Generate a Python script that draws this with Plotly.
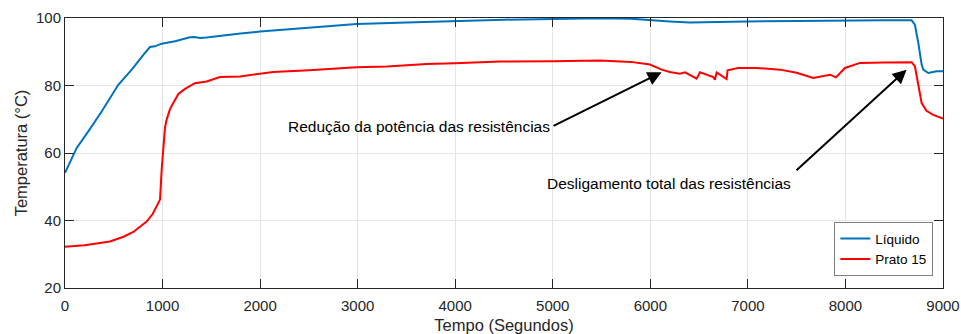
import plotly.graph_objects as go

# Time axis (seconds) and temperatures (°C)
t_liquido = [0, 120, 239, 376, 546, 684, 803, 871, 922, 991, 1128, 1230, 1281, 1330,
             1384, 1450, 1600, 1800, 2000, 2500, 2990, 3500, 4000, 4500, 5000, 5484,
             5800, 6000, 6200, 6406, 6700, 6987, 7500, 7995, 8400, 8679, 8712, 8747,
             8781, 8798, 8849, 8934, 9000]
temp_liquido = [54.1, 61.5, 66.4, 72.3, 80.2, 84.7, 89.1, 91.4, 91.6, 92.4, 93.1, 93.8,
                94.3, 94.4, 94.1, 94.2, 94.8, 95.4, 96.0, 97.2, 98.2, 98.7, 99.2, 99.5,
                99.7, 99.9, 99.8, 99.3, 99.0, 98.7, 98.9, 99.0, 99.1, 99.3, 99.3, 99.3,
                98.0, 92.6, 86.2, 84.7, 83.7, 84.2, 84.2]

t_prato = [0, 200, 461, 600, 700, 837, 900, 974, 991, 1008, 1025, 1042, 1076, 1110,
           1162, 1230, 1332, 1452, 1589, 1794, 1982, 2135, 2500, 2990, 3300, 3707,
           4000, 4459, 5000, 5484, 5800, 5996, 6116, 6200, 6304, 6355, 6475, 6509,
           6645, 6662, 6680, 6782, 6792, 6901, 7090, 7329, 7500, 7670, 7841, 7903,
           7995, 8149, 8400, 8679, 8712, 8750, 8781, 8830, 8900, 9000]
temp_prato = [32.2, 32.7, 33.8, 35.2, 36.6, 39.7, 42.0, 46.2, 55.1, 63.0, 67.5, 69.9,
              73.0, 74.8, 77.5, 79.0, 80.7, 81.2, 82.5, 82.7, 83.4, 84.0, 84.5, 85.4,
              85.6, 86.4, 86.6, 87.1, 87.2, 87.4, 87.0, 86.2, 84.7, 84.0, 83.5, 83.9,
              82.0, 83.9, 82.5, 81.7, 83.9, 81.9, 84.5, 85.2, 85.2, 84.7, 83.8, 82.2,
              83.2, 82.4, 85.2, 86.7, 86.8, 86.9, 85.7, 80.0, 74.8, 72.5, 71.3, 70.2]

x_ticks = [0, 1000, 2000, 3000, 4000, 5000, 6000, 7000, 8000, 9000]
y_ticks = [20, 40, 60, 80, 100]

# Arrow annotations: (text, tail_x, tail_y, tip_x, tip_y, text_x, text_y)
notas = [
    ("Redução da potência das resistências", 4992, 67.8, 6116, 83.9, 4992, 67.8),
    ("Desligamento total das resistências", 7483, 54.5, 8627, 84.7, 7465, 51.1),
]

FONT = "Liberation Sans, Arial, sans-serif"
INK = "#262626"

fig = go.Figure()
fig.add_trace(go.Scatter(x=t_liquido, y=temp_liquido, mode="lines", name="Líquido",
                         line=dict(color="#0072BD", width=2)))
fig.add_trace(go.Scatter(x=t_prato, y=temp_prato, mode="lines", name="Prato 15",
                         line=dict(color="#FF0000", width=2)))

for texto, ax_, ay_, x_, y_, tx, ty in notas:
    fig.add_annotation(x=x_, y=y_, ax=ax_, ay=ay_, xref="x", yref="y",
                       axref="x", ayref="y", text="", showarrow=True,
                       arrowhead=2, arrowsize=1.4, arrowwidth=2, arrowcolor="black",
                       standoff=0, startstandoff=0)
    fig.add_annotation(x=tx, y=ty, xref="x", yref="y", text=texto, showarrow=False,
                       xanchor="right", yanchor="middle",
                       font=dict(family=FONT, size=15.5, color="black"))

axis_common = dict(showline=True, linecolor=INK, linewidth=1, mirror="ticks",
                   ticks="inside", ticklen=9, tickcolor=INK, tickwidth=1,
                   showgrid=True, gridcolor="#e5e5e5", gridwidth=1, zeroline=False,
                   automargin=False,
                   tickfont=dict(family=FONT, size=15, color=INK))

fig.update_xaxes(range=[0, 9000], tickvals=x_ticks, ticklabelstandoff=4,
                 title=dict(text="Tempo (Segundos)", standoff=10,
                            font=dict(family=FONT, size=16.5, color=INK)),
                 **axis_common)
fig.update_yaxes(range=[20, 100], tickvals=y_ticks,
                 title=dict(text="Temperatura (°C)", standoff=4,
                            font=dict(family=FONT, size=16.5, color=INK)),
                 **axis_common)

fig.update_layout(
    width=961, height=334,
    margin=dict(l=65, r=18, t=18, b=46),
    paper_bgcolor="white", plot_bgcolor="white",
    showlegend=True,
    legend=dict(x=0.989, y=0.044, xanchor="right", yanchor="bottom",
                bgcolor="white", bordercolor="#7f7f7f", borderwidth=1,
                font=dict(family=FONT, size=13.5, color="black"),
                tracegroupgap=0, itemwidth=30),
)

fig.write_html("out.html")
